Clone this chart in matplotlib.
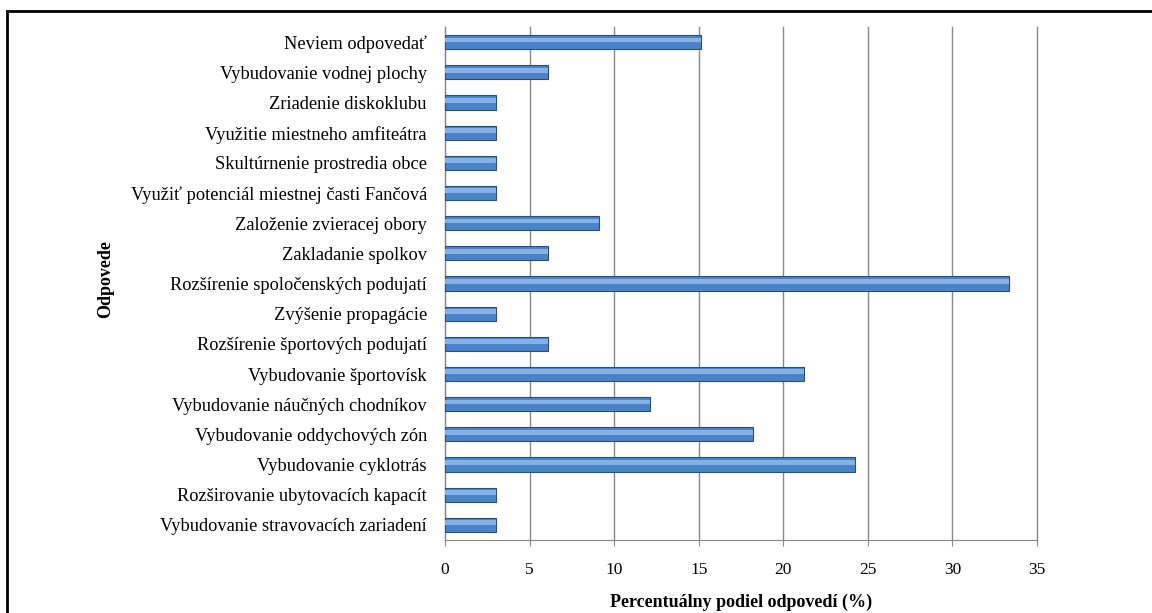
import matplotlib
matplotlib.use('Agg')
import matplotlib.pyplot as plt
import matplotlib.patches as patches
import numpy as np

categories = ['Neviem odpovedať',
              'Vybudovanie vodnej plochy',
              'Zriadenie diskoklubu',
              'Využitie miestneho amfiteátra',
              'Skultúrnenie prostredia obce',
              'Využiť potenciál miestnej časti Fančová',
              'Založenie zvieracej obory',
              'Zakladanie spolkov',
              'Rozšírenie spoločenských podujatí',
              'Zvýšenie propagácie',
              'Rozšírenie športových podujatí',
              'Vybudovanie športovísk',
              'Vybudovanie náučných chodníkov',
              'Vybudovanie oddychových zón',
              'Vybudovanie cyklotrás',
              'Rozširovanie ubytovacích kapacít',
              'Vybudovanie stravovacích zariadení']
values = [15.15, 6.06, 3.03, 3.03, 3.03, 3.03, 9.09, 6.06, 33.33,
          3.03, 6.06, 21.21, 12.12, 18.18, 24.24, 3.03, 3.03]
xticks = [0, 5, 10, 15, 20, 25, 30, 35]

plt.rcParams['font.family'] = ['Liberation Serif', 'DejaVu Serif']

fig = plt.figure(figsize=(11.52, 6.13), dpi=100)
ax = fig.add_axes([0.3863, 0.1191, 0.5139, 0.8369])

y = np.arange(len(categories))[::-1]
ax.barh(y, values, height=0.47, color='#4a84c8', edgecolor='#2c4d75',
        linewidth=0.8, zorder=3)
# lighter upper band to imitate the shaded bars
ax.barh(y + 0.07, values, height=0.16, color='#86b1e6', linewidth=0,
        zorder=4)

ax.set_xlim(0, 35)
ax.set_ylim(-0.5, len(categories) - 0.5)
ax.set_xticks(xticks)
ax.set_xticklabels([str(t) for t in xticks], fontsize=12.5)
ax.set_yticks(y)
ax.set_yticklabels(categories, fontsize=13.2)
ax.tick_params(axis='y', length=0, pad=13)
ax.tick_params(axis='x', length=4, color='#888888', pad=12)
ax.grid(axis='x', color='#888888', linewidth=1, zorder=0)
for line in ax.get_xgridlines():
    line.set_clip_on(False)
for s in ['top', 'right']:
    ax.spines[s].set_visible(False)
ax.spines['left'].set_color('#888888')
ax.spines['bottom'].set_color('#888888')

ax.set_xlabel('Percentuálny podiel odpovedí (%)', fontsize=13,
              fontweight='bold', labelpad=11)
fig.text(0.092, 0.545, 'Odpovede', rotation=90, fontsize=13,
         fontweight='bold', ha='center', va='center')

fig.add_artist(patches.Rectangle((7 / 1152, -0.05), 1.1, 0.05 + (1 - 11 / 613),
                                 transform=fig.transFigure, fill=False,
                                 edgecolor='black', linewidth=2))

fig.savefig('out.png', dpi=100)
